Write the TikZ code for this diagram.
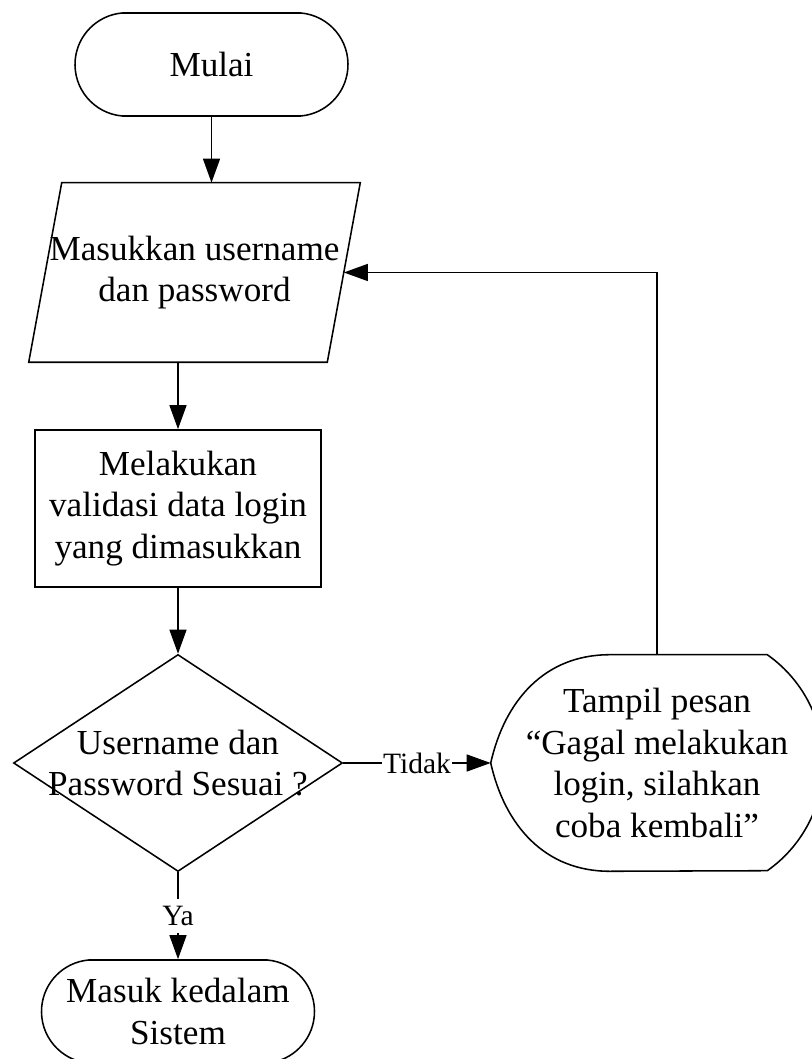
\documentclass[tikz,border=0pt]{standalone}
\usepackage{fontspec}
\setmainfont{Liberation Serif}
\usetikzlibrary{arrows.meta,positioning,shapes.geometric,shapes.misc}

\begin{document}
\begin{tikzpicture}[
  terminal/.style={rounded rectangle,rounded rectangle arc length=170,draw,line width=1.1pt,minimum width=6.825cm,minimum height=2.575cm,inner sep=0pt,align=center,font=\fontsize{25}{29.5}\selectfont},
  process/.style={rectangle,draw,line width=1.1pt,minimum width=7.15cm,minimum height=3.925cm,inner sep=0pt,align=center,font=\fontsize{25}{29.5}\selectfont},
  decision/.style={diamond,draw,line width=1.1pt,minimum width=8.225cm,minimum height=5.425cm,inner sep=0pt},
  plain/.style={inner sep=0pt,align=center,font=\fontsize{25}{29.5}\selectfont},
  outline/.style={draw,line width=1.1pt},
  arr/.style={draw,line width=1.4pt,-{Triangle[length=6mm,width=4.2mm]}},
  lbl/.style={fill=white,inner xsep=1pt,inner ysep=5pt,font=\fontsize{21}{25}\selectfont}
]
\useasboundingbox (0,0) rectangle (20.3,26.475);
\fill[white] (0,0) rectangle (20.3,26.475);

\node[terminal] (mulai) at (5.2875,24.8625) {Mulai};
\node[plain,minimum width=8.275cm,minimum height=4.475cm] (inp) at (4.8625,19.6625) {Masukkan username\\dan password};
\draw[outline] ([xshift=0.825cm]inp.north west) -- (inp.north east) -- ([xshift=-0.825cm]inp.south east) -- (inp.south west) -- cycle;
\node[process] (proses) at (4.45,13.7625) {Melakukan\\validasi data login\\yang dimasukkan};
\node[decision] (cek) at (4.45,7.4) {};
\node[plain] (cektxt) at (cek) {Username dan\\Password Sesuai ?};
\node[plain,minimum width=8.3cm,minimum height=5.4cm] (pesan) at (16.425,7.4) {Tampil pesan\\``Gagal melakukan\\login, silahkan\\coba kembali''};
\draw[outline] ([xshift=-1.4cm]pesan.north east) arc[start angle=54.9,end angle=-54.9,radius=3.3cm]
  -- ([xshift=2.975cm]pesan.south west) .. controls +(-1.625,0) and +(0.35,-1.5625) .. (pesan.west)
  .. controls +(0.35,1.5625) and +(-1.625,0) .. ([xshift=2.975cm]pesan.north west) -- cycle;
\node[terminal] (masuk) at (4.45,1.1875) {Masuk kedalam\\Sistem};

% alur
\draw[arr] (mulai.south) -- (mulai.south |- inp.north);
\draw[arr] (proses.north |- inp.south) -- (proses.north);
\draw[arr] (proses.south) -- (cek.north);
\draw[arr] (cek.east) -- node[lbl] {Tidak} (pesan.west);
\draw[arr] (cek.south) -- node[lbl] {Ya} (masuk.north);
\draw[arr] (pesan.north) |- ([xshift=-0.4125cm]inp.east);
\end{tikzpicture}
\end{document}
